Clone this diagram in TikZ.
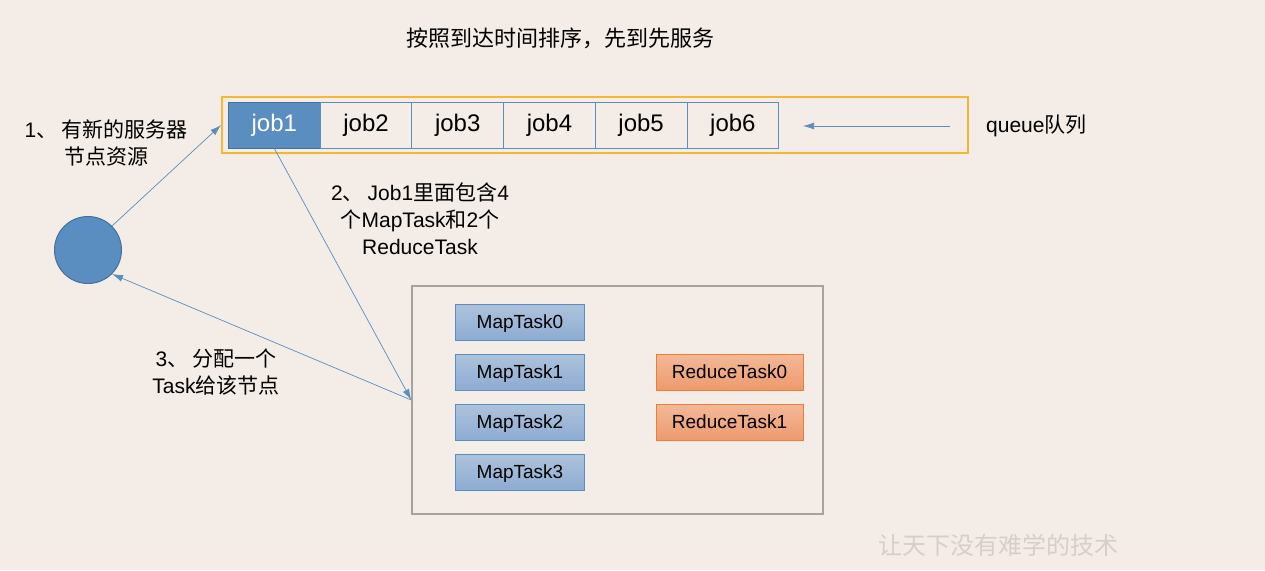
\documentclass[tikz,border=0pt]{standalone}
\usepackage{fontspec}
\setmainfont{Liberation Sans}
\newfontfamily\cjk{Noto Sans CJK SC}
\usetikzlibrary{arrows.meta}
\definecolor{bg}{HTML}{F4ECE6}
\definecolor{jobblue}{HTML}{5A8DC0}
\definecolor{jobedge}{HTML}{41719C}
\definecolor{lineblue}{HTML}{5B8DBF}
\definecolor{queueorange}{HTML}{F5B730}
\definecolor{boxgray}{HTML}{A8A29E}
\definecolor{maptop}{HTML}{AEC3DC}
\definecolor{mapbot}{HTML}{8DACD2}
\definecolor{redtop}{HTML}{F2B999}
\definecolor{redbot}{HTML}{EE9A6C}
\definecolor{rededge}{HTML}{ED7D31}
\definecolor{wmark}{HTML}{D5CFCA}
\newcommand{\dun}{{\cjk 、}\hspace{4pt}}
\tikzset{
	jobcell/.style={draw=lineblue, line width=1pt, minimum width=91.7pt, minimum height=46pt, inner sep=0pt, anchor=west, font=\fontsize{24}{24}\selectfont},
	maptask/.style={draw=lineblue, top color=maptop, bottom color=mapbot, minimum width=129pt, minimum height=36pt, inner sep=0pt, text height=13pt, text depth=1pt, font=\fontsize{19}{19}\selectfont},
	reducetask/.style={draw=rededge, top color=redtop, bottom color=redbot, minimum width=147pt, minimum height=36pt, inner sep=0pt, text height=13pt, text depth=1pt, font=\fontsize{19}{19}\selectfont},
	note/.style={align=center, inner sep=0pt, font=\fontsize{21}{27}\selectfont},
	link/.style={draw=lineblue, line width=0.7pt, -{Latex[length=11pt,width=7pt]}}
}
\begin{document}
\begin{tikzpicture}[x=1pt,y=-1pt]
	\fill[bg] (0,0) rectangle (1265,570);
	\useasboundingbox (0,0) rectangle (1265,570);

	\node[note, font=\fontsize{22}{27}\selectfont] (title) at (560,38) {{\cjk 按照到达时间排序，先到先服务}};

	\node[draw=queueorange, line width=1.8pt, minimum width=746pt, minimum height=56pt] (queue) at (595,125) {};
	\node[jobcell, fill=jobblue, draw=jobedge, text=white] (job1) at (228,125) {job1};
	\foreach \i in {2,...,6}
		\node[jobcell] (job\i) at (228+91.7*\i-91.7,125) {job\i};
	\node[note, anchor=west] (qlabel) at (986,126) {queue{\cjk 队列}};
	\coordinate (qin) at (950,126);
	\coordinate (qout) at (803,126);
	\draw[link] (qin) -- (qout);

	\node[circle, draw=jobedge, fill=jobblue, line width=1pt, minimum size=67pt] (server) at (88,250) {};
	\node[note] (note1) at (106,143) {1\dun{\cjk 有新的服务器}\\{\cjk 节点资源}};

	\node[draw=boxgray, line width=1.5pt, minimum width=411pt, minimum height=228pt] (pool) at (617.5,400) {};
	\foreach \i in {0,...,3}
		\node[maptask] (map\i) at (520,322+50*\i) {MapTask\i};
	\foreach \i in {0,1}
		\node[reducetask] (reduce\i) at (729.5,372+50*\i) {ReduceTask\i};

	\node[note] (note2) at (420,219) {2\dun Job1{\cjk 里面包含}4\\{\cjk 个}MapTask{\cjk 和}2{\cjk 个}\\ReduceTask};
	\node[note] (note3) at (216,372) {3\dun{\cjk 分配一个}\\Task{\cjk 给该节点}};

	\draw[link] (server.45) -- (queue.west);
	\draw[link] (job1.south) -- (pool.west);
	\draw[link] (pool.west) -- (server.-45);

	\node[text=wmark, font=\fontsize{24}{24}\selectfont] (watermark) at (998,545) {{\cjk 让天下没有难学的技术}};
\end{tikzpicture}
\end{document}
